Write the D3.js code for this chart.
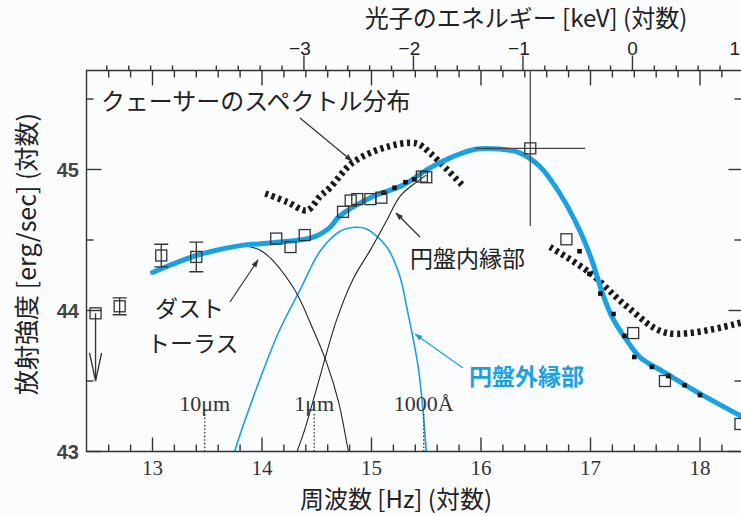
<!DOCTYPE html>
<html><head><meta charset="utf-8">
<script src="https://cdn.jsdelivr.net/npm/d3@7"></script>
<style>body{margin:0;background:#fbfcfe;} svg{display:block;}</style>
</head><body><svg id="c" width="741" height="516"></svg>
<script>
// ---- data (log Hz, log erg/s) ----
const totalSpectrum = [[13.0,44.27],[13.4,44.39],[13.8,44.46],[14.1,44.48],[14.47,44.52],[14.62,44.59],[14.71,44.67],[14.99,44.80],[15.29,44.89],[15.53,45.01],[15.74,45.09],[15.96,45.145],[16.17,45.145],[16.35,45.12],[16.54,45.02],[16.72,44.83],[16.90,44.57],[17.02,44.34],[17.11,44.12],[17.20,43.95],[17.33,43.79],[17.45,43.67],[17.70,43.55],[18.00,43.41],[18.40,43.24]];
const dustTorus = [[13.6,44.43],[13.8,44.46],[14.0,44.42],[14.28,44.17],[14.47,43.86],[14.59,43.63],[14.7,43.35],[14.79,43.0],[14.85,42.8]];
const innerDisk = [[14.26,42.85],[14.32,43.0],[14.38,43.13],[14.5,43.45],[14.68,43.93],[14.83,44.22],[14.99,44.43],[15.14,44.64],[15.26,44.81],[15.41,44.91],[15.5,44.96]];
const outerDisk = [[13.7,42.85],[13.75,43.0],[13.98,43.51],[14.16,43.86],[14.35,44.15],[14.53,44.42],[14.71,44.56],[14.85,44.59],[14.95,44.58],[15.14,44.45],[15.26,44.24],[15.32,44.03],[15.43,43.58],[15.5,43.0],[15.51,42.85]];
const quasarSED1 = [[14.03,44.83],[14.23,44.77],[14.41,44.71],[14.53,44.81],[14.62,44.87],[14.83,45.05],[15.14,45.16],[15.41,45.185],[15.53,45.12],[15.69,45.0],[15.84,44.88]];
const quasarSED2 = [[16.63,44.45],[16.99,44.27],[17.33,44.03],[17.70,43.84],[18.40,43.92]];
const obsPoints = [[13.08,44.39,0.08],[13.40,44.38,0.105],[12.70,44.03,0.06],[14.13,44.51,0],[14.26,44.45,0],[14.39,44.535,0],[14.74,44.70,0],[14.81,44.78,0],[14.87,44.79,0],[14.99,44.79,0],[15.09,44.80,0],[15.46,44.95,0],[15.50,44.945,0],[16.78,44.505,0],[17.39,43.84,0],[17.68,43.50,0],[18.37,43.195,0]];
const upperLimit = [[12.48,43.98,43.50]];
const xrayPoint = [[16.45,45.15,15.95,16.95,44.60,45.80]];
const smallDots = [[15.11,44.835],[15.21,44.87],[15.31,44.91],[15.39,44.93],[16.90,44.42],[16.99,44.26],[17.09,44.12],[17.21,43.975],[17.31,43.82],[17.40,43.67],[17.56,43.60],[17.71,43.535],[17.86,43.47],[18.00,43.40]];
const wavelengthMarks = [[13.477,"10μm"],[14.477,"1μm"],[15.477,"1000Å"]];
const hzMajor = [13,14,15,16,17,18];
const lumMajor = [43,44,45];
const lumMinor = [43.5,44.5,45.5];
const kevMajor = [-3,-2,-1,0,1];
const kevOffset = 17.383; // log10(Hz per keV)

// ---- scales ----
const x = d3.scaleLinear().domain([13,18]).range([152.5,700]);
const y = d3.scaleLinear().domain([43,45]).range([451.5,169.5]);
const L = 86.5, R = 741.5, T = 70.5, B = 451.5;
const blue = "#1ba1e2", ink = "#333";

const svg = d3.select("#c");
svg.append("rect").attr("width",741).attr("height",516).attr("fill","#fbfcfe");
const defs = svg.append("defs");
defs.append("clipPath").attr("id","clip").append("rect").attr("x",L).attr("y",T).attr("width",R-L).attr("height",B-T);
function mk(id,color){
  defs.append("marker").attr("id",id).attr("viewBox","0 0 10 10").attr("refX",9).attr("refY",5)
    .attr("markerWidth",12).attr("markerHeight",8).attr("markerUnits","userSpaceOnUse").attr("orient","auto")
    .append("path").attr("d","M0,1.5 L10,5 L0,8.5 z").attr("fill",color);
}
mk("ah",ink); mk("ahb",blue);

const g = svg.append("g").attr("clip-path","url(#clip)");
const line = d3.line().x(d=>x(d[0])).y(d=>y(d[1])).curve(d3.curveCatmullRom.alpha(0.5));

const hzMinor = d3.range(12.6,18.5,0.2).filter(v=>Math.abs(v-Math.round(v))>0.05);
const kevMinor = d3.range(-4.8,1.2,0.2).filter(v=>Math.abs(v-Math.round(v))>0.05);

// ---- curves ----
g.append("path").datum(outerDisk).attr("d",line).attr("fill","none").attr("stroke",blue).attr("stroke-width",1.6);
g.append("path").datum(dustTorus).attr("d",line).attr("fill","none").attr("stroke","#222").attr("stroke-width",1.1);
g.append("path").datum(innerDisk).attr("d",line).attr("fill","none").attr("stroke","#222").attr("stroke-width",1.1);
[quasarSED1,quasarSED2].forEach(s=>g.append("path").datum(s).attr("d",line)
  .attr("fill","none").attr("stroke","#1a1a1a").attr("stroke-width",6.5).attr("stroke-dasharray","3.2 3.6"));
g.append("path").datum(totalSpectrum).attr("d",line).attr("fill","none").attr("stroke",blue).attr("stroke-width",5).attr("stroke-linecap","round");

// wavelength markers
wavelengthMarks.forEach(([v,t])=>{
  g.append("line").attr("x1",x(v)).attr("x2",x(v)).attr("y1",414).attr("y2",B).attr("stroke","#444").attr("stroke-width",1.4).attr("stroke-dasharray","1.6 2");
  svg.append("text").attr("x",x(v)).attr("y",411).attr("text-anchor","middle").attr("font-family","'Liberation Serif','DejaVu Serif',serif").attr("font-size",22).attr("fill","#333").text(t);
});

// small dots
g.selectAll(".sd").data(smallDots).enter().append("rect").attr("x",d=>x(d[0])-2.3).attr("y",d=>y(d[1])-2.3).attr("width",4.6).attr("height",4.6).attr("fill","#111");

// error bars + squares
obsPoints.forEach(d=>{
  if(d[2]>0){
    [d[1]-d[2],d[1]+d[2]].forEach(e=>g.append("line").attr("x1",x(d[0])-7).attr("x2",x(d[0])+7).attr("y1",y(e)).attr("y2",y(e)).attr("stroke",ink).attr("stroke-width",1.3));
    g.append("line").attr("x1",x(d[0])).attr("x2",x(d[0])).attr("y1",y(d[1]-d[2])).attr("y2",y(d[1]+d[2])).attr("stroke",ink).attr("stroke-width",1.3);
  }
});
xrayPoint.forEach(d=>{
  g.append("line").attr("x1",x(d[2])).attr("x2",x(d[3])).attr("y1",y(d[1])).attr("y2",y(d[1])).attr("stroke","#444").attr("stroke-width",1.2);
  g.append("line").attr("x1",x(d[0])).attr("x2",x(d[0])).attr("y1",y(d[4])).attr("y2",y(d[5])).attr("stroke","#444").attr("stroke-width",1.2);
});
upperLimit.forEach(d=>{
  const cx=x(d[0]), ty=y(d[2]);
  g.append("line").attr("x1",cx).attr("x2",cx).attr("y1",y(d[1])).attr("y2",ty).attr("stroke",ink).attr("stroke-width",1.3);
  g.append("path").attr("d",`M${cx-6},${ty-28} L${cx},${ty} L${cx+6},${ty-28}`).attr("fill","none").attr("stroke",ink).attr("stroke-width",1.3);
});
const allSq = obsPoints.map(d=>[d[0],d[1]]).concat(upperLimit.map(d=>[d[0],d[1]])).concat(xrayPoint.map(d=>[d[0],d[1]]));
g.selectAll(".sq").data(allSq).enter().append("rect").attr("x",d=>x(d[0])-5.5).attr("y",d=>y(d[1])-5.5).attr("width",11).attr("height",11)
  .attr("fill","none").attr("stroke",ink).attr("stroke-width",1.3);

// ---- frame & ticks ----
const ax = svg.append("g").attr("stroke",ink).attr("stroke-width",1.4);
ax.append("path").attr("d",`M${R},${T} H${L} V${B} H${R}`).attr("fill","none");
hzMajor.forEach(v=>{ ax.append("line").attr("x1",x(v)).attr("x2",x(v)).attr("y1",B).attr("y2",B-14);
  ax.append("line").attr("x1",x(v)).attr("x2",x(v)).attr("y1",T).attr("y2",T+15); });
hzMinor.forEach(v=>{ ax.append("line").attr("x1",x(v)).attr("x2",x(v)).attr("y1",B).attr("y2",B-7);
  ax.append("line").attr("x1",x(v)).attr("x2",x(v)).attr("y1",T).attr("y2",T+7); });
kevMajor.forEach(v=>ax.append("line").attr("x1",x(v+kevOffset)).attr("x2",x(v+kevOffset)).attr("y1",T).attr("y2",T-15));
kevMinor.forEach(v=>ax.append("line").attr("x1",x(v+kevOffset)).attr("x2",x(v+kevOffset)).attr("y1",T).attr("y2",T-5));
lumMajor.forEach(v=>{ ax.append("line").attr("x1",L).attr("x2",L+15).attr("y1",y(v)).attr("y2",y(v));
  ax.append("line").attr("x1",R).attr("x2",R-13).attr("y1",y(v)).attr("y2",y(v)); });
lumMinor.forEach(v=>{ ax.append("line").attr("x1",L).attr("x2",L+7).attr("y1",y(v)).attr("y2",y(v));
  ax.append("line").attr("x1",R).attr("x2",R-7).attr("y1",y(v)).attr("y2",y(v)); });

// tick labels
const serif="'Liberation Serif','DejaVu Serif',serif", sans="'Liberation Sans',Arial,sans-serif", jp="'Noto Sans CJK JP',sans-serif";
hzMajor.forEach(v=>svg.append("text").attr("x",x(v)).attr("y",475).attr("text-anchor","middle").attr("font-family",serif).attr("font-size",21).attr("fill","#333").text(v));
lumMajor.forEach(v=>svg.append("text").attr("x",79).attr("y",y(v)+7).attr("text-anchor","end").attr("font-family",sans).attr("font-weight","bold").attr("font-size",20).attr("fill","#444").text(v));
kevMajor.forEach(v=>{
  const px = x(v+kevOffset);
  const t = svg.append("text").attr("y",55).attr("font-family",sans).attr("font-size",19).attr("fill","#222").text(v<0?"−"+Math.abs(v):String(v));
  if(px>730) t.attr("x",740).attr("text-anchor","end"); else t.attr("x",px+(v<0?-4:0)).attr("text-anchor","middle");
});

// axis titles
svg.append("text").attr("x",526).attr("y",27).attr("text-anchor","middle").attr("font-family",jp).attr("font-size",24).attr("fill","#222").text("光子のエネルギー [keV] (対数)");
svg.append("text").attr("x",396).attr("y",508).attr("text-anchor","middle").attr("font-family",jp).attr("font-size",24).attr("fill","#222").text("周波数 [Hz] (対数)");
svg.append("text").attr("transform","translate(36,254) rotate(-90)").attr("text-anchor","middle").attr("font-family",jp).attr("font-size",25).attr("fill","#222").text("放射強度 [erg/sec] (対数)");

// annotations
function note(txt,xx,yy,color,size){ svg.append("text").attr("x",xx).attr("y",yy).attr("font-family",jp).attr("font-size",size).attr("fill",color).text(txt); }
note("クェーサーのスペクトル分布",101,110,"#222",24);
note("円盤内縁部",410,267,"#222",23);
note("ダスト",155,317,"#222",23);
note("トーラス",147,352,"#222",23);
svg.append("text").attr("x",469).attr("y",385).attr("font-family",jp).attr("font-weight","bold").attr("font-size",23).attr("fill",blue).text("円盤外縁部");
function arrow(x1,y1,x2,y2,m,c){ svg.append("line").attr("x1",x1).attr("y1",y1).attr("x2",x2).attr("y2",y2).attr("stroke",c).attr("stroke-width",1.2).attr("marker-end",`url(#${m})`); }
arrow(300,118,352,161,"ah",ink);
arrow(420,237,396,213,"ah",ink);
arrow(230,302,258,260,"ah",ink);
arrow(463,368,415,334,"ahb",blue);
</script></body></html>
